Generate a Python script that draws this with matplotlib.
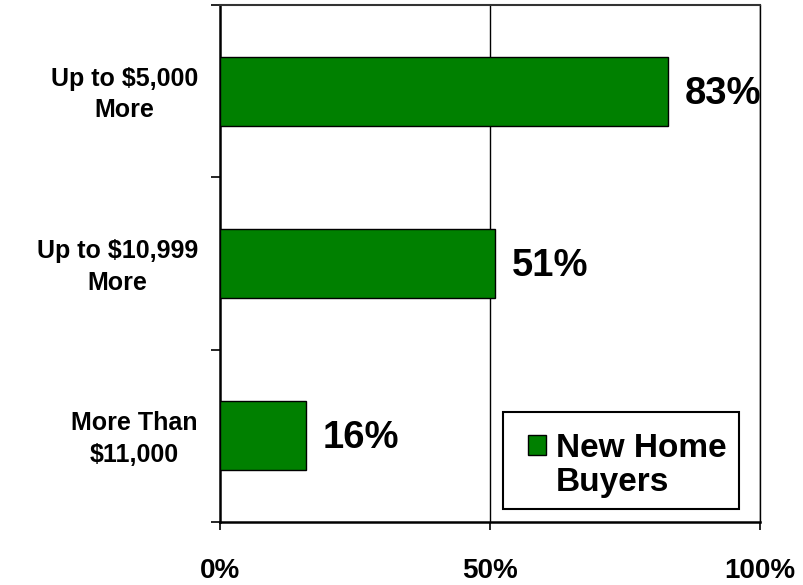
import matplotlib.pyplot as plt
from matplotlib.patches import Patch, Rectangle
from matplotlib.transforms import ScaledTranslation

categories = ["Up to $5,000\nMore", "Up to $10,999\nMore", "More Than\n$11,000"]
values = [83, 51, 16]
xticks = [0, 50, 100]
xticklabels = ["0%", "50%", "100%"]
series_name = ["New Home", "Buyers"]

plt.rcParams['font.family'] = ['Liberation Sans', 'DejaVu Sans']
plt.rcParams['font.weight'] = 'bold'

fig = plt.figure(figsize=(8.04, 5.85), dpi=100)
ax = fig.add_axes([0.2736, 0.1077, 0.6716, 0.8838])

pos = list(range(len(categories)))
bars = ax.barh(pos, values, height=0.4, color='#008000', edgecolor='black', linewidth=1, zorder=3)

for p, v in zip(pos, values):
    ax.text(v + 3.1, p + 0.015, f"{v}%", va='center', ha='left', fontsize=27.5, fontweight='bold')

ax.set_xlim(0, 100)
ax.set_ylim(2.5, -0.5)

# gridlines at 50% and 100%
for g in xticks[1:]:
    ax.axvline(g, color='black', linewidth=1, zorder=2)

ax.set_yticks(pos)
ax.set_yticklabels(categories, fontsize=18, fontweight='bold', linespacing=1.4,
                   multialignment='center', va='center')
ax.set_yticks([-0.5, 0.5, 1.5, 2.5], minor=True)
ax.tick_params(axis='y', which='major', length=0, pad=16)
ax.tick_params(axis='y', which='minor', length=6.5, width=1.2, direction='out')
shift = ScaledTranslation(0, -2.5 / 72, fig.dpi_scale_trans)
for t in ax.get_yticklabels():
    t.set_transform(t.get_transform() + shift)

ax.set_xticks(xticks)
ax.set_xticklabels(xticklabels, fontsize=20, fontweight='bold')
ax.tick_params(axis='x', length=6, width=1.2, direction='out', pad=20)

for s in ['left', 'bottom']:
    ax.spines[s].set_linewidth(1.8)
ax.spines['top'].set_linewidth(1.5)
ax.spines['top'].set_color('#333333')
ax.spines['right'].set_linewidth(1)

# legend box drawn separately so the handle sits beside the first line
ax.add_patch(Rectangle((0.524, 0.025), 0.437, 0.188, transform=ax.transAxes,
                       facecolor='white', edgecolor='black', linewidth=1.5, zorder=4))
handles = [bars.patches[0], Patch(facecolor='none', edgecolor='none')]
leg = ax.legend(handles, series_name, loc='upper left', bbox_to_anchor=(0.570, 0.173),
                borderaxespad=0, frameon=False, prop={'size': 24, 'weight': 'bold'},
                handlelength=0.55, handleheight=0.55, handletextpad=0.3,
                labelspacing=0.1, borderpad=0)
leg.set_zorder(5)

fig.savefig("out.png", dpi=100)
